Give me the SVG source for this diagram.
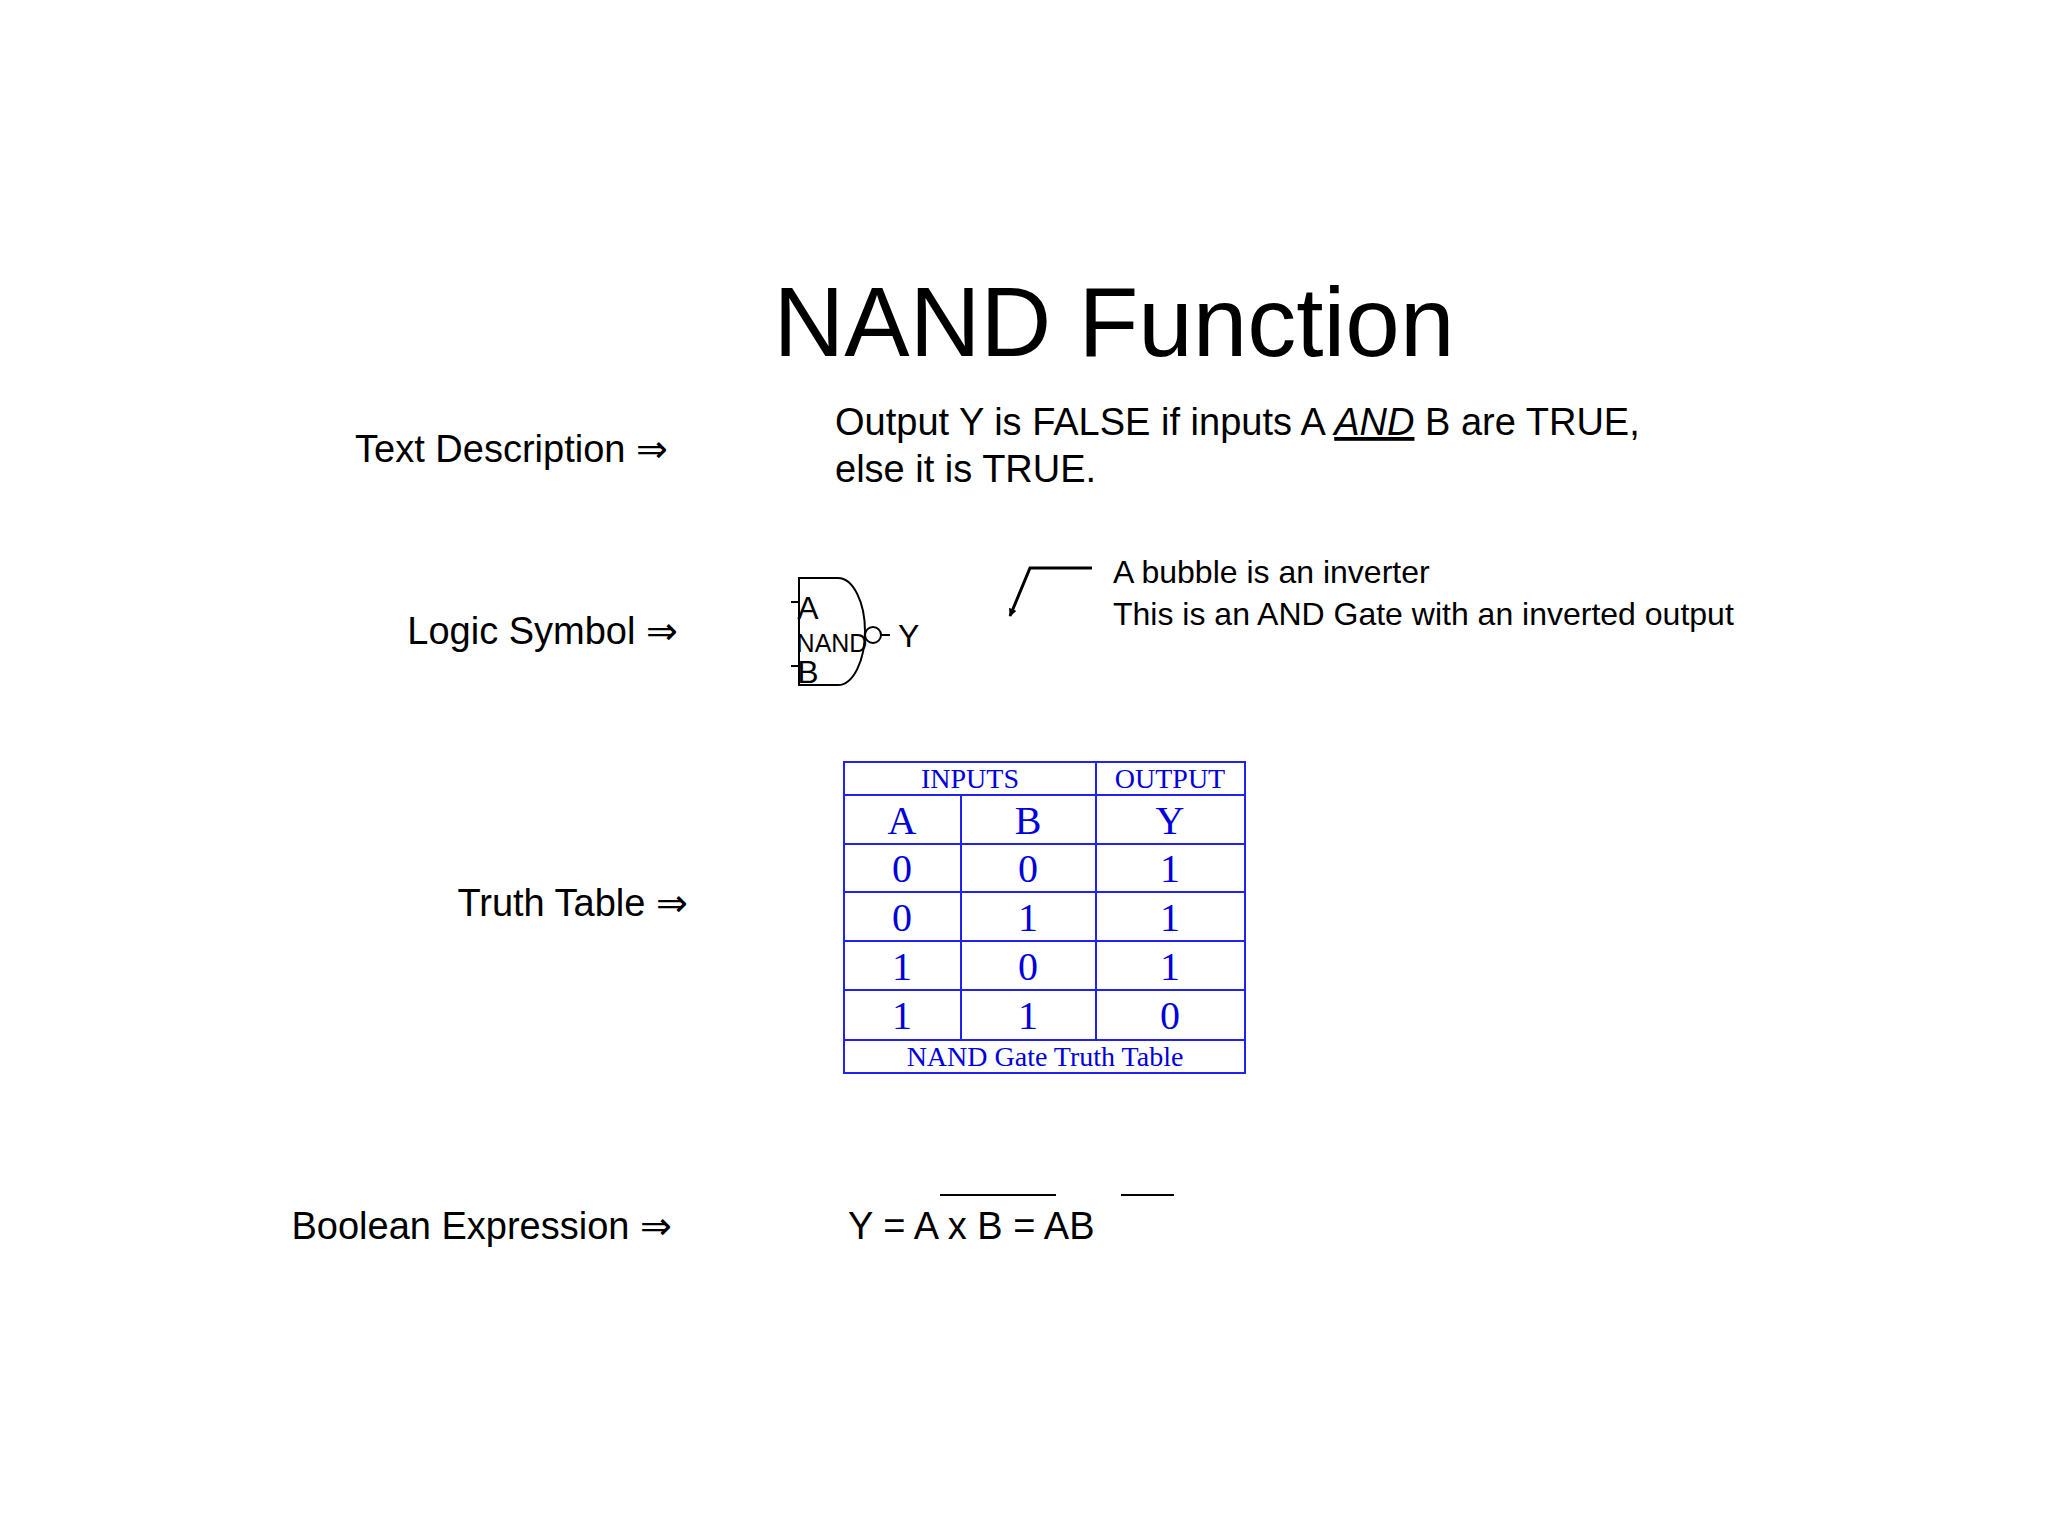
<svg xmlns="http://www.w3.org/2000/svg" width="2048" height="1536" viewBox="0 0 2048 1536">
<style>
.s{font-family:"Liberation Sans",Arial,sans-serif;fill:#000}
.t{font-family:"Liberation Serif","Times New Roman",serif;fill:#0000dd;text-anchor:middle}
.l{stroke:#000;stroke-width:2;fill:none}
.g{stroke:#2222ee;stroke-width:2;fill:none}
</style>
<defs><marker id="ah" viewBox="0 0 10 10" refX="9" refY="5" markerWidth="8" markerHeight="8" orient="auto" markerUnits="userSpaceOnUse"><path d="M0,0 L10,5 L0,10 Z" fill="#000"/></marker></defs>
<rect width="2048" height="1536" fill="#fff"/>
<text class="s" x="1114" y="356" font-size="98" text-anchor="middle">NAND Function</text>
<g id="labels" class="s" font-size="38" text-anchor="end">
<text x="668" y="462">Text Description ⇒</text>
<text x="678" y="644">Logic Symbol ⇒</text>
<text x="688" y="916">Truth Table ⇒</text>
<text x="672" y="1239">Boolean Expression ⇒</text>
</g>
<g id="description" class="s" font-size="38">
<text x="835" y="435">Output Y is FALSE if inputs A <tspan font-style="italic" text-decoration="underline">AND</tspan> B are TRUE,</text>
<text x="835" y="482">else it is TRUE.</text>
</g>
<g id="gate">
<path class="l" d="M799,578 H838 A27,53.5 0 0 1 838,685 H799 Z"/>
<circle class="l" cx="873" cy="635" r="8"/>
<line class="l" x1="881" y1="635" x2="890" y2="635"/>
<line class="l" x1="791" y1="602" x2="799" y2="602"/>
<line class="l" x1="791" y1="666" x2="799" y2="666"/>
<text class="s" x="832" y="652" font-size="25" text-anchor="middle">NAND</text>
<text class="s" x="808" y="619" font-size="32" text-anchor="middle" dx="-0">A</text>
<text class="s" x="808" y="683" font-size="32" text-anchor="middle">B</text>
<text class="s" x="898" y="647" font-size="32">Y</text>
</g>
<g id="connectors">
<path d="M1092,568 H1030 L1010,616" stroke="#000" stroke-width="3" fill="none" marker-end="url(#ah)"/>
</g>
<g id="note" class="s" font-size="32">
<text x="1113" y="583">A bubble is an inverter</text>
<text x="1113" y="625">This is an AND Gate with an inverted output</text>
</g>
<g id="truthtable">
<rect class="g" x="844" y="762" width="401" height="311"/>
<line class="g" x1="844" y1="795" x2="1245" y2="795"/>
<line class="g" x1="844" y1="844" x2="1245" y2="844"/>
<line class="g" x1="844" y1="892" x2="1245" y2="892"/>
<line class="g" x1="844" y1="941" x2="1245" y2="941"/>
<line class="g" x1="844" y1="990" x2="1245" y2="990"/>
<line class="g" x1="844" y1="1040" x2="1245" y2="1040"/>
<line class="g" x1="1096" y1="762" x2="1096" y2="1040"/>
<line class="g" x1="961" y1="795" x2="961" y2="1040"/>
<g class="t" font-size="28"><text x="970" y="788">INPUTS</text><text x="1170" y="788">OUTPUT</text><text x="1045" y="1066">NAND Gate Truth Table</text></g>
<g class="t" font-size="40">
<text x="902" y="834">A</text><text x="1028" y="834">B</text><text x="1170" y="834">Y</text>
<text x="902" y="882">0</text><text x="1028" y="882">0</text><text x="1170" y="882">1</text>
<text x="902" y="931">0</text><text x="1028" y="931">1</text><text x="1170" y="931">1</text>
<text x="902" y="980">1</text><text x="1028" y="980">0</text><text x="1170" y="980">1</text>
<text x="902" y="1029">1</text><text x="1028" y="1029">1</text><text x="1170" y="1029">0</text>
</g>
</g>
<g id="boolean">
<text class="s" x="848" y="1239" font-size="38">Y = A x B = AB</text>
<line class="l" x1="940" y1="1195" x2="1056" y2="1195"/>
<line class="l" x1="1121" y1="1195" x2="1174" y2="1195"/>
</g>
</svg>
